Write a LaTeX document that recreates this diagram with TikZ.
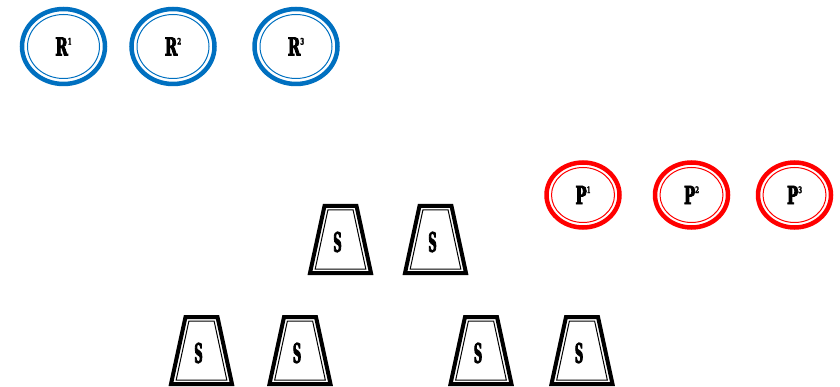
\documentclass[tikz,border=0pt]{standalone}
\usepackage{fontspec}
\newfontfamily\ringfont[FakeStretch=0.6,FakeBold=3]{DejaVu Serif Bold}
\newfontfamily\cupfont[FakeStretch=0.42,FakeBold=3]{DejaVu Serif Bold}
\usetikzlibrary{shapes.geometric}
\definecolor{ringblue}{RGB}{0,112,192}
\definecolor{ringred}{RGB}{255,0,0}
\newcommand\ringidx[1]{\raisebox{11pt}{\fontsize{9}{9}\selectfont#1}}
\tikzset{
  ring/.style={ellipse,draw=#1,line width=4.5pt,inner sep=0pt,
    font=\ringfont\fontsize{25}{25}\selectfont},
  bigring/.style={ring=ringblue,minimum width=83pt,minimum height=75pt},
  smallring/.style={ring=ringred,minimum width=73pt,minimum height=65pt},
  cup/.style={inner sep=0pt,font=\cupfont\fontsize{27}{27}\selectfont},
  cupshift/.style={shift={(#1.center)},shift={(3,-2.5)}}
}
\begin{document}
\begin{tikzpicture}[x=1pt,y=-1pt]
\useasboundingbox (0,0) rectangle (840,387);
\node[bigring] (r1) at (63.5,46.5) {R\ringidx{1}};
\node[bigring] (r2) at (173,46.5) {R\ringidx{2}};
\node[bigring] (r3) at (296,46.5) {R\ringidx{3}};
\node[smallring] (p1) at (583,195) {P\ringidx{1}};
\node[smallring] (p2) at (691.5,195) {P\ringidx{2}};
\node[smallring] (p3) at (794.5,195) {P\ringidx{3}};
\node[cup] (s1) at (337.5,242) {S};
\node[cup] (s2) at (432.5,242) {S};
\node[cup] (s3) at (198.5,353) {S};
\node[cup] (s4) at (297,353) {S};
\node[cup] (s5) at (478,353) {S};
\node[cup] (s6) at (579,353) {S};
\foreach \n in {r1,r2,r3}
  \draw[ringblue,line width=1pt] (\n.center) ellipse [x radius=36, y radius=32];
\foreach \n in {p1,p2,p3}
  \draw[ringred,line width=1pt] (\n.center) ellipse [x radius=31.5, y radius=27.5];
\foreach \n in {s1,s2,s3,s4,s5,s6} {
  \draw[line width=4pt,cupshift=\n] (-16,-33.5) -- (16,-33.5) -- (30.5,33.5) -- (-30.5,33.5) -- cycle;
  \draw[line width=1pt,cupshift=\n] (-12.6,-29.5) -- (12.6,-29.5) -- (25.3,29.5) -- (-25.3,29.5) -- cycle;
}
\end{tikzpicture}
\end{document}
